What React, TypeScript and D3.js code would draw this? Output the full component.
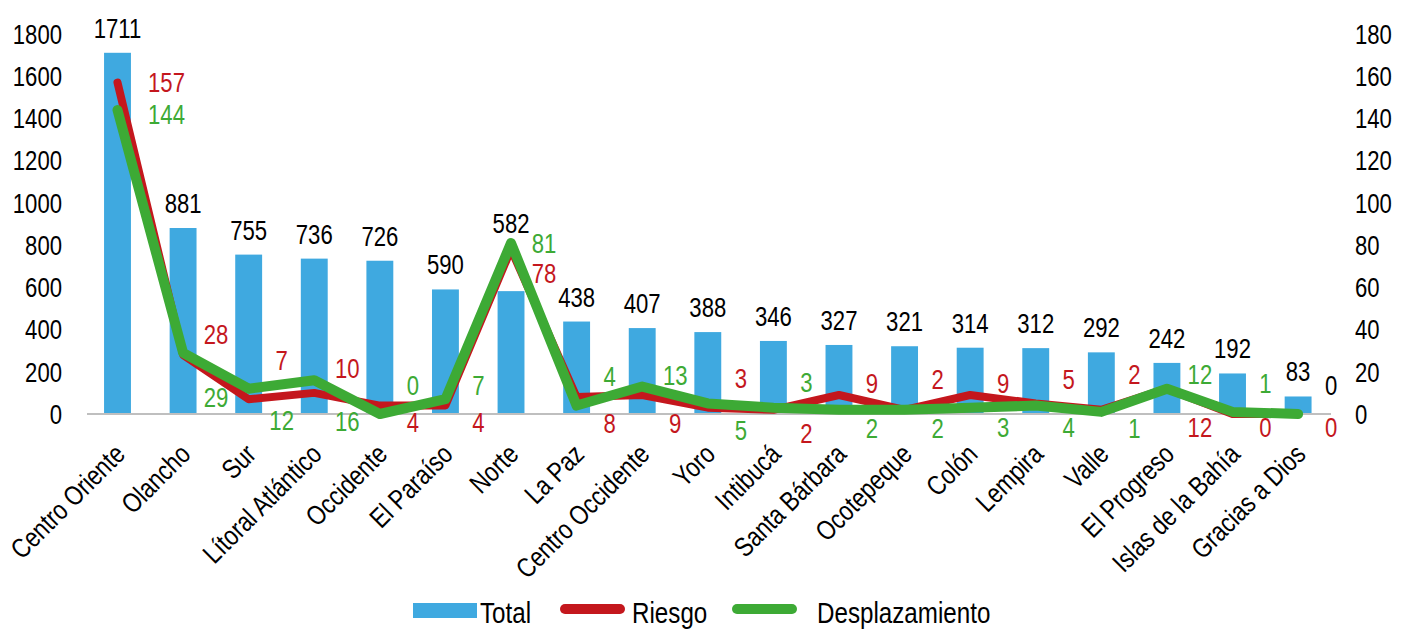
import React from 'react';
import * as d3 from 'd3';

const categories = [
  'Centro Oriente', 'Olancho', 'Sur', 'Lítoral Atlántico', 'Occidente', 'El Paraíso', 'Norte',
  'La Paz', 'Centro Occidente', 'Yoro', 'Intibucá', 'Santa Bárbara', 'Ocotepeque', 'Colón',
  'Lempira', 'Valle', 'El Progreso', 'Islas de la Bahía', 'Gracias a Dios',
];
const total = [1711, 881, 755, 736, 726, 590, 582, 438, 407, 388, 346, 327, 321, 314, 312, 292, 242, 192, 83];
const riesgo = [157, 28, 7, 10, 4, 4, 78, 8, 9, 3, 2, 9, 2, 9, 5, 2, 12, 0, 0];
const desplazamiento = [144, 29, 12, 16, 0, 7, 81, 4, 13, 5, 3, 2, 2, 3, 4, 1, 12, 1, 0];

const leftTicks = d3.range(0, 1801, 200);
const rightTicks = d3.range(0, 181, 20);

// vertical nudge of the labels, as they sit in the original
const totalLabelDy = [0, 0, 0, 0, 0, 0, -43, 0, 0, 0, 0, 0, 0, 0, 0, 0, 0, 0, 0];
const riesgoLabelDy = [0, -21, -39, -25, 17, 17, 24, 26, 28, -29, 23, -12, -31, -12, -24, -36, 39, 13, 13];
const desplLabelDy = [4, 44, 32, 41, -29, -14, 0, -29, -11, 27, -25, 18, 18, 20, 22, 16, -14, -29, -29];

const BLUE = '#3FA9E0';
const RED = '#C4171D';
const GREEN = '#3DAA35';
const FONT = '"Liberation Sans", Arial, sans-serif';
const NARROW = 0.82;

// Arial-Narrow-like text: regular sans squeezed horizontally
function NText({ x, y, anchor = 'start', rotate = 0, fill = '#000', dy, size, children }: any) {
  return (
    <text
      transform={`translate(${x},${y}) rotate(${rotate}) scale(${NARROW},1)`}
      textAnchor={anchor}
      dy={dy}
      fill={fill}
      fontSize={size}
    >
      {children}
    </text>
  );
}

export default function App() {
  const width = 1408;
  const height = 630;
  const top = 34;
  const bottom = 414;

  const x = d3.scaleBand<string>().domain(categories).range([84.7, 1330.9]).padding(0);
  const bw = x.bandwidth();
  const cx = (c: string) => (x(c) as number) + bw / 2;
  const barW = bw * 0.41;

  const yL = d3.scaleLinear().domain([0, 1800]).range([bottom, top]);
  const yR = d3.scaleLinear().domain([0, 180]).range([bottom, top]);

  const line = d3
    .line<number>()
    .x((_, i) => cx(categories[i]))
    .y((d) => yR(d));

  const labelDx = (v: number) => 33 + (String(v).length >= 3 ? 16 : 0);

  return (
    <svg
      width={width}
      height={height}
      style={{ position: 'absolute', left: 0, top: 0, background: '#fff' }}
      fontFamily={FONT}
      fontSize={27}
    >
      {/* left axis */}
      {leftTicks.map((t) => (
        <NText key={'l' + t} x={62} y={yL(t)} dy="0.36em" anchor="end">
          {t}
        </NText>
      ))}
      {/* right axis */}
      {rightTicks.map((t) => (
        <NText key={'r' + t} x={1355} y={yR(t)} dy="0.36em">
          {t}
        </NText>
      ))}

      {/* bars */}
      {categories.map((c, i) => (
        <rect key={'b' + c} x={cx(c) - barW / 2} y={yL(total[i])} width={barW} height={yL(0) - yL(total[i])} fill={BLUE} />
      ))}

      <line x1={87} x2={1331} y1={bottom} y2={bottom} stroke="#BFBFBF" strokeWidth={2} />

      <path d={line(riesgo) || ''} fill="none" stroke={RED} strokeWidth={8} strokeLinejoin="round" strokeLinecap="round" />
      <path d={line(desplazamiento) || ''} fill="none" stroke={GREEN} strokeWidth={10} strokeLinejoin="round" strokeLinecap="round" />

      {/* total labels */}
      {categories.map((c, i) => (
        <NText key={'t' + c} x={cx(c)} y={yL(total[i]) - 15 + totalLabelDy[i]} anchor="middle">
          {total[i]}
        </NText>
      ))}
      {/* riesgo labels */}
      {categories.map((c, i) => (
        <NText
          key={'rl' + c}
          x={cx(c) + labelDx(riesgo[i])}
          y={yR(riesgo[i]) + riesgoLabelDy[i]}
          dy="0.36em"
          anchor="middle"
          fill={RED}
        >
          {riesgo[i]}
        </NText>
      ))}
      {/* desplazamiento labels */}
      {categories.map((c, i) => (
        <NText
          key={'dl' + c}
          x={cx(c) + labelDx(desplazamiento[i])}
          y={yR(desplazamiento[i]) + desplLabelDy[i]}
          dy="0.36em"
          anchor="middle"
          fill={i === categories.length - 1 ? '#000' : GREEN}
        >
          {desplazamiento[i]}
        </NText>
      ))}

      {/* category labels */}
      {categories.map((c) => (
        <NText key={'c' + c} x={cx(c) + 9} y={456} rotate={-45} anchor="end" size={27.5}>
          {c}
        </NText>
      ))}

      {/* legend */}
      <g>
        <rect x={413} y={603} width={64} height={15} fill={BLUE} />
        <NText x={480} y={623} size={29.5}>Total</NText>
        <line x1={565} x2={620} y1={609} y2={609} stroke={RED} strokeWidth={10} strokeLinecap="round" />
        <NText x={632} y={623} size={29.5}>Riesgo</NText>
        <line x1={737} x2={792} y1={609} y2={609} stroke={GREEN} strokeWidth={10} strokeLinecap="round" />
        <NText x={817} y={623} size={29.5}>Desplazamiento</NText>
      </g>
    </svg>
  );
}
